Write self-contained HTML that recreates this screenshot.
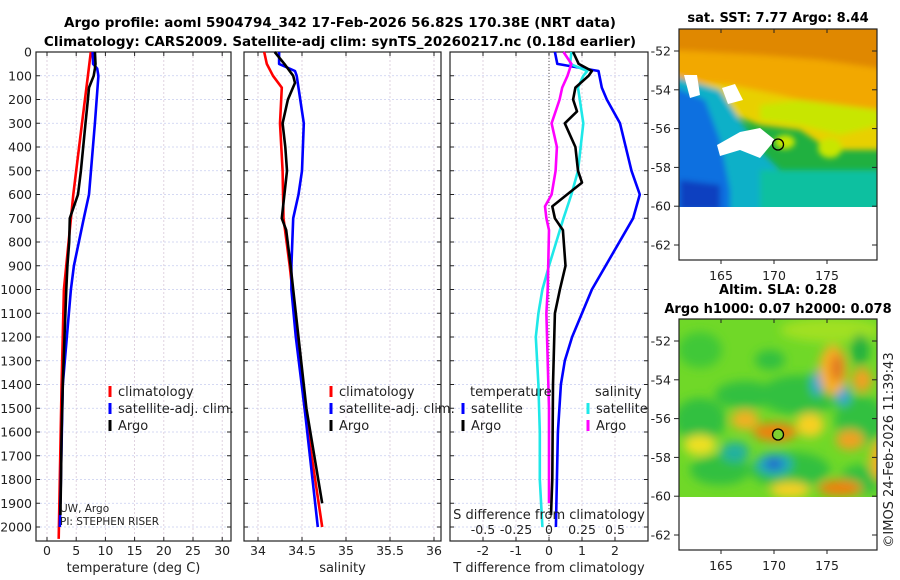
<!DOCTYPE html>
<html><head><meta charset="utf-8"><style>
html,body{margin:0;padding:0;background:#fff;}
svg{display:block;font-family:"DejaVu Sans","Liberation Sans",sans-serif;}
</style></head><body>
<svg id="c" width="900" height="580" viewBox="0 0 900 580" xmlns="http://www.w3.org/2000/svg">
<defs>
<filter id="bl" x="-20%" y="-20%" width="140%" height="140%"><feGaussianBlur stdDeviation="5"/></filter>
<filter id="bl2" x="-20%" y="-20%" width="140%" height="140%"><feGaussianBlur stdDeviation="3"/></filter>
<clipPath id="m1"><rect x="679" y="29" width="198" height="178"/></clipPath>
<clipPath id="m2"><rect x="679" y="319" width="198" height="178"/></clipPath>
</defs>
<g id="titles" font-weight="bold" font-size="13.5" text-anchor="middle">
<text x="340" y="27">Argo profile: aoml 5904794_342 17-Feb-2026 56.82S 170.38E (NRT data)</text>
<text x="340" y="46">Climatology: CARS2009. Satellite-adj clim: synTS_20260217.nc (0.18d earlier)</text>
<text x="778" y="22" font-size="13">sat. SST: 7.77 Argo: 8.44</text>
<text x="778" y="294" font-size="13">Altim. SLA: 0.28</text>
<text x="778" y="313" font-size="13">Argo h1000: 0.07 h2000: 0.078</text>
</g>
<g id="plots"></g>
<g id="maps"></g>
<text transform="translate(893,450) rotate(-90)" font-size="13" text-anchor="middle" fill="#222">©IMOS 24-Feb-2026 11:39:43</text>
</svg>
<script>
// ---- data ----
const depthT = [0,50,70,100,150,200,300,400,500,600,700,800,900,1000,1200,1400,1600,1800,1950];
const tArgo  = [8.2,8.3,8.2,8.0,7.2,7.0,6.6,6.2,5.8,5.3,3.9,3.8,3.5,3.3,3.0,2.7,2.5,2.4,2.3];
const depthC = [0,100,300,600,1000,1400,1800,2050];
const tClim  = [7.5,7.0,6.0,4.5,2.9,2.5,2.2,2.0];
const depthS2 = [0,50,70,100,300,600,700,900,1000,1400,1900,2000];
const tSat   = [7.8,7.9,8.6,8.8,8.2,7.2,6.3,4.6,4.1,2.7,2.3,2.2];

const depthS = [0,50,100,130,200,300,400,500,600,700,750,900,1000,1500,1900];
const sArgo  = [34.19,34.3,34.4,34.42,34.34,34.28,34.31,34.33,34.30,34.27,34.32,34.37,34.40,34.55,34.73];
const depthSC = [0,50,100,150,300,500,700,900,1000,1500,2000];
const sClim  = [34.07,34.10,34.17,34.27,34.25,34.28,34.29,34.36,34.39,34.53,34.73];
const depthSS = [0,50,80,100,300,500,600,700,900,1000,1200,1500,2000];
const sSat   = [34.24,34.24,34.42,34.44,34.52,34.50,34.46,34.40,34.38,34.38,34.43,34.53,34.68];

const depthD1 = [0,50,80,150,200,300,500,600,700,1000,1100,1200,1300,1400,1600,1800,2000];
const dTSat  = [0.18,0.25,1.5,1.6,1.75,2.15,2.5,2.75,2.55,1.3,1.0,0.7,0.48,0.36,0.27,0.24,0.21];
const depthD2 = [0,50,80,100,150,200,250,300,400,500,550,600,650,700,750,900,1000,1100,1400,1800,1950];
const dTArgo = [0.73,0.9,1.3,1.2,0.8,0.73,0.85,0.48,0.8,0.88,1.0,0.55,0.1,0.18,0.42,0.5,0.33,0.18,0.12,0.1,0.06];
const depthD3 = [0,50,80,100,150,300,500,600,700,900,1000,1100,1200,1400,1600,1800,2000];
const dSSat  = [0.17,0.16,0.29,0.26,0.22,0.26,0.22,0.17,0.11,0.0,-0.05,-0.08,-0.1,-0.08,-0.07,-0.07,-0.05];
const depthD4 = [0,50,100,150,200,300,400,500,600,650,700,750,1000,1100,1300,1500,1900];
const dSArgo = [0.11,0.17,0.14,0.10,0.08,0.02,0.06,0.05,0.02,-0.03,-0.02,0.0,-0.01,-0.02,-0.01,0.0,0.0];

const depthTicks = [0,100,200,300,400,500,600,700,800,900,1000,1100,1200,1300,1400,1500,1600,1700,1800,1900,2000];
const tTicks = [0,5,10,15,20,25,30];
const sTicks = [34,34.5,35,35.5,36];
const dTTicks = [-2,-1,0,1,2];
const dSTickVals = [-0.5,-0.25,0,0.25,0.5];
const dSTickLabels = ["-0.5","-0.25","0","0.25","0.5"];
const lonTicks = [165,170,175];
const latTicks = [-52,-54,-56,-58,-60,-62];

// ---- helpers ----
const NS="http://www.w3.org/2000/svg";
function mk(tag, attrs, parent){const e=document.createElementNS(NS,tag);for(const k in attrs)e.setAttribute(k,attrs[k]);(parent||document.getElementById('plots')).appendChild(e);return e;}
const y = d => 52 + d*0.2375;
const xT = v => 47 + v*5.84;
const xS = v => 258 + (v-34)*88;
const xDT = v => 549 + v*33;
const xDS = v => 549 + v*132;

const panels = [
 {x0:36,x1:231,ticks:tTicks,fx:xT,lab:"temperature (deg C)",name:"temperature-panel"},
 {x0:244,x1:441,ticks:sTicks,fx:xS,lab:"salinity",name:"salinity-panel"},
 {x0:450,x1:648,ticks:dTTicks,fx:xDT,lab:"T difference from climatology",name:"difference-panel"}
];
const plots=document.getElementById('plots');
panels.forEach((p,pi)=>{
  const g=mk('g',{},plots);
  
  
  p.g=g;
  depthTicks.forEach(d=>{
    const l=mk('line',{x1:p.x0,x2:p.x1,y1:y(d),y2:y(d),stroke:"#c8cdf0","stroke-width":0.8,"stroke-dasharray":"2,2"},g);
    
    
    mk('line',{x1:p.x0,x2:p.x0+4,y1:y(d),y2:y(d),stroke:"#222"},g);
    mk('line',{x1:p.x1-4,x2:p.x1,y1:y(d),y2:y(d),stroke:"#222"},g);
    if(pi===0){const tx=mk('text',{x:32,y:y(d)+4.5,"font-size":12.5,"text-anchor":"end",fill:"#222"},g);tx.textContent=d;
      
      }
  });
  p.ticks.forEach(v=>{
    const X=p.fx(v);
    const l=mk('line',{x1:X,x2:X,y1:52,y2:541,stroke:"#d8c8d8","stroke-width":0.8,"stroke-dasharray":"2,2"},g);
    
    
    mk('line',{x1:X,x2:X,y1:541,y2:537,stroke:"#222"},g);
    mk('line',{x1:X,x2:X,y1:52,y2:56,stroke:"#222"},g);
    const tx=mk('text',{x:X,y:555,"font-size":12.5,"text-anchor":"middle",fill:"#222"},g);tx.textContent=v;
    
    
  });
  const r=mk('rect',{x:p.x0,y:52,width:p.x1-p.x0,height:489,fill:"none",stroke:"#222","stroke-width":1.2},g);
  
  
  const xl=mk('text',{x:(p.x0+p.x1)/2,y:572,"font-size":13,"text-anchor":"middle",fill:"#222"},g);xl.textContent=p.lab;
  
  
});
const zl=mk('line',{x1:xDT(0),x2:xDT(0),y1:52,y2:541,stroke:"#555","stroke-width":1,"stroke-dasharray":"1,2"},panels[2].g);



function line(ds,vs,fx,col,name,g){
  const pts=ds.map((d,i)=>fx(vs[i]).toFixed(1)+","+y(d).toFixed(1)).join(" ");
  const pl=mk('polyline',{points:pts,fill:"none",stroke:col,"stroke-width":2.6,"stroke-linejoin":"round"},g);
  
  
}
line(depthC,tClim,xT,"#f00","temp-climatology-line",panels[0].g);
line(depthS2,tSat,xT,"#00f","temp-satellite-line",panels[0].g);
line(depthT,tArgo,xT,"#000","temp-argo-line",panels[0].g);
line(depthSC,sClim,xS,"#f00","sal-climatology-line",panels[1].g);
line(depthSS,sSat,xS,"#00f","sal-satellite-line",panels[1].g);
line(depthS,sArgo,xS,"#000","sal-argo-line",panels[1].g);
line(depthD1,dTSat,xDT,"#00f","dT-satellite-line",panels[2].g);
line(depthD3,dSSat,xDS,"#1ee8e8","dS-satellite-line",panels[2].g);
line(depthD4,dSArgo,xDS,"#f0f","dS-argo-line",panels[2].g);
line(depthD2,dTArgo,xDT,"#000","dT-argo-line",panels[2].g);

const g3=panels[2].g;
const sdl=mk('text',{x:549,y:519,"font-size":13,"text-anchor":"middle",fill:"#222"},g3);sdl.textContent="S difference from climatology";


dSTickVals.forEach((v,i)=>{const t=mk('text',{x:xDS(v),y:534,"font-size":12.5,"text-anchor":"middle",fill:"#222"},g3);t.textContent=dSTickLabels[i];
  
  });

function legend(x,yy,col,label,g){
  const lg=mk('g',{},g);
  
  
  mk('rect',{x:x-1.5,y:yy-10,width:3,height:11,fill:col},lg);
  const t=mk('text',{x:x+8,y:yy,"font-size":13,fill:"#222"},lg);t.textContent=label;
}
legend(110,396,"#f00","climatology",panels[0].g);
legend(110,413,"#00f","satellite-adj. clim.",panels[0].g);
legend(110,430,"#000","Argo",panels[0].g);
legend(331,396,"#f00","climatology",panels[1].g);
legend(331,413,"#00f","satellite-adj. clim.",panels[1].g);
legend(331,430,"#000","Argo",panels[1].g);
{const t=mk('text',{x:470,y:396,"font-size":13,fill:"#222"},g3);t.textContent="temperature";
 
 const t2=mk('text',{x:595,y:396,"font-size":13,fill:"#222"},g3);t2.textContent="salinity";
 }
legend(463,413,"#00f","satellite",g3);
legend(463,430,"#000","Argo",g3);
legend(588,413,"#1ee8e8","satellite",g3);
legend(588,430,"#f0f","Argo",g3);
{const t=mk('text',{x:60,y:512,"font-size":10.5,fill:"#222"},panels[0].g);t.textContent="UW, Argo";
 
 const t2=mk('text',{x:60,y:525,"font-size":10.5,fill:"#222"},panels[0].g);t2.textContent="PI: STEPHEN RISER";
 }

// ---- maps ----
const maps=document.getElementById('maps');
const lonX = lo => 721 + (lo-165)*10.6;
function mapFrame(y0,name,clip,draw){
  const g=mk('g',{},maps);
  
  
  const latY = la => y0+22 + (-52-la)*19.4;
  const inner=mk('g',{"clip-path":"url(#"+clip+")"},g);
  draw(inner);
  latTicks.forEach(la=>{
    mk('line',{x1:679,x2:674,y1:latY(la),y2:latY(la),stroke:"#222"},g);
    mk('line',{x1:877,x2:872,y1:latY(la),y2:latY(la),stroke:"#222"},g);
    const t=mk('text',{x:671,y:latY(la)+4.5,"font-size":12.5,"text-anchor":"end",fill:"#222"},g);t.textContent=la;
    
  });
  lonTicks.forEach(lo=>{
    mk('line',{x1:lonX(lo),x2:lonX(lo),y1:y0+231,y2:y0+235,stroke:"#222"},g);
    mk('line',{x1:lonX(lo),x2:lonX(lo),y1:y0,y2:y0+4,stroke:"#222"},g);
    const t=mk('text',{x:lonX(lo),y:y0+251,"font-size":12.5,"text-anchor":"middle",fill:"#222"},g);t.textContent=lo;
    
  });
  const c=mk('circle',{cx:lonX(170.38),cy:latY(-56.82),r:5.5,fill:"none",stroke:"#000","stroke-width":1.3},g);
  
  mk('rect',{x:679,y:y0,width:198,height:231,fill:"none",stroke:"#222","stroke-width":1.2},g);
  return latY;
}
mapFrame(29,"sst-map","m1",inner=>{
  mk('rect',{x:679,y:29,width:198,height:178,fill:"#20b040"},inner);
  const b=mk('g',{filter:"url(#bl2)"},inner);
  mk('polygon',{points:"670,20 890,20 890,150 830,150 800,130 760,125 720,110 670,100",fill:"#f2a800"},b);
  mk('polygon',{points:"670,20 890,20 890,70 820,60 760,55 670,50",fill:"#e08800"},b);
  mk('polygon',{points:"670,100 720,110 760,125 800,130 830,150 890,150 890,120 820,105 780,95 730,85 670,80",fill:"#e8d000"},b);
  mk('polygon',{points:"760,120 800,125 840,135 880,125 880,110 800,100 760,105",fill:"#c8e600"},b);
  mk('polygon',{points:"670,75 720,90 740,120 760,150 790,180 800,215 670,215",fill:"#10b0c8"},b);
  mk('polygon',{points:"670,85 705,100 720,140 730,190 730,215 670,215",fill:"#1070e0"},b);
  mk('polygon',{points:"680,180 720,185 720,210 680,210",fill:"#1040c0"},b);
  mk('polygon',{points:"760,170 880,170 880,215 760,215",fill:"#10c0a0"},b);
  mk('ellipse',{cx:830,cy:148,rx:12,ry:10,fill:"#c8e600"},b);
  mk('ellipse',{cx:785,cy:142,rx:10,ry:7,fill:"#c8e600"},b);
  mk('polygon',{points:"717,145 740,132 760,128 775,140 760,158 740,150 720,156",fill:"#ffffff"},inner);
  mk('polygon',{points:"684,75 697,75 700,95 690,98",fill:"#ffffff"},inner);
  mk('polygon',{points:"722,88 735,84 743,100 728,104",fill:"#ffffff"},inner);
  mk('rect',{x:679,y:207,width:198,height:53,fill:"#fff"},inner);
});
mapFrame(319,"sla-map","m2",inner=>{
  mk('rect',{x:679,y:319,width:198,height:178,fill:"#70d828"},inner);
  const b=mk('g',{filter:"url(#bl)"},inner);
  [[700,350,22,18,"#40c838"],[700,420,26,22,"#30c040"],[745,395,30,14,"#30c040"],[800,395,40,20,"#30c040"],[860,420,25,25,"#30c040"],
   [720,470,30,15,"#30c040"],[790,470,40,18,"#30c040"],[860,480,20,15,"#30c040"],[830,330,50,12,"#a0e020"],
   [700,445,16,10,"#f0e020"],[745,420,14,10,"#f0b020"],[775,432,22,9,"#f08010"],[810,425,14,12,"#f8d020"],
   [735,452,14,10,"#20b0a0"],[774,464,18,11,"#20a8c0"],[774,464,8,5,"#2050d0"],[817,383,5,13,"#30a0e0"],
   [843,395,7,10,"#30a0e0"],[833,370,14,25,"#f8b020"],[837,368,6,14,"#e07020"],[862,380,10,12,"#f0a020"],
   [860,350,9,16,"#20b040"],[850,440,14,10,"#f0a020"],[840,488,22,8,"#f08010"],[790,490,20,8,"#f8d020"],[880,460,10,20,"#f8b020"],
   [770,360,15,10,"#30c040"]
  ].forEach(a=>mk('ellipse',{cx:a[0],cy:a[1],rx:a[2],ry:a[3],fill:a[4]},b));
  mk('rect',{x:679,y:497,width:198,height:53,fill:"#fff"},inner);
  mk('circle',{cx:lonX(170.38),cy:319+22+4.82*19.4,r:5,fill:"#80d030"},inner);
});
</script>
</body></html>
